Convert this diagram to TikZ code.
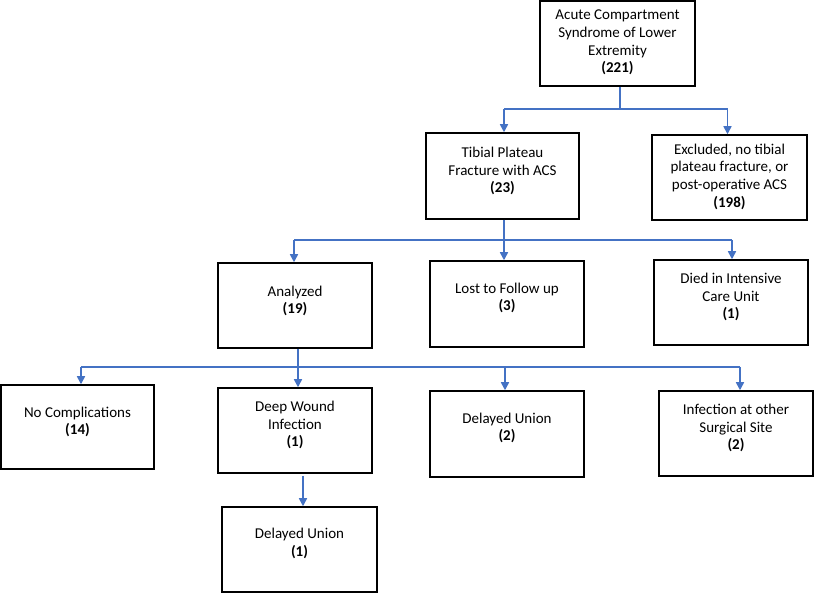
\documentclass[tikz,border=0pt]{standalone}
\usepackage{fontspec}
\setmainfont{Carlito}
\usetikzlibrary{arrows.meta}
\definecolor{connblue}{HTML}{4472C4}
\begin{document}
\begin{tikzpicture}[x=1pt,y=-1pt,
  box/.style={draw=black, line width=1.5pt, minimum width=154pt, minimum height=85pt, inner sep=0pt},
  txt/.style={align=center, font=\fontsize{15}{17.7}\selectfont, inner sep=0pt},
  link/.style={draw=connblue, line width=1.3pt},
  arr/.style={draw=connblue, line width=1.6pt, -{Triangle[width=8pt,length=8pt]}}]
\useasboundingbox (0,0) rectangle (815,593);
% boxes
\node[box, minimum width=155pt] (top) at (617.5,43.5) {};
\node[box, minimum width=153pt, minimum height=86pt] (tib) at (502.5,176) {};
\node[box, minimum width=155pt] (exc) at (729.5,177.5) {};
\node[box] (ana) at (295,305.5) {};
\node[box, minimum height=86pt] (lost) at (507,304) {};
\node[box] (died) at (731,302.5) {};
\node[box, minimum width=153pt, minimum height=84pt] (noc) at (77.5,427) {};
\node[box] (deep) at (295,430.5) {};
\node[box, minimum height=86pt] (del2) at (507,434) {};
\node[box] (inf) at (736,433.5) {};
\node[box, minimum width=155pt] (del1) at (299.5,549.5) {};
% texts
\node[txt] (ttop) at ([yshift=1pt]top.center) {Acute Compartment\\Syndrome of Lower\\Extremity\\\textbf{(221)}};
\node[txt] (ttib) at ([yshift=5pt]tib.center) {Tibial Plateau\\Fracture with ACS\\\textbf{(23)}};
\node[txt] (texc) at ([yshift=1pt]exc.center) {Excluded, no tibial\\plateau fracture, or\\post-operative ACS\\\textbf{(198)}};
\node[txt] (tana) at ([yshift=4.5pt]ana.center) {Analyzed\\\textbf{(19)}};
\node[txt] (tlost) at ([yshift=6pt]lost.center) {Lost to Follow up\\\textbf{(3)}};
\node[txt] (tdied) at ([yshift=5.5pt]died.center) {Died in Intensive\\Care Unit\\\textbf{(1)}};
\node[txt] (tnoc) at ([yshift=5pt]noc.center) {No Complications\\\textbf{(14)}};
\node[txt] (tdeep) at ([yshift=5.5pt]deep.center) {Deep Wound\\Infection\\\textbf{(1)}};
\node[txt] (tdel2) at ([yshift=6pt]del2.center) {Delayed Union\\\textbf{(2)}};
\node[txt] (tinf) at ([yshift=5.5pt]inf.center) {Infection at other\\Surgical Site\\\textbf{(2)}};
\node[txt] (tdel1) at ([yshift=6pt]del1.center) {Delayed Union\\\textbf{(1)}};
% junctions
\coordinate (j1) at (620,109);
\coordinate (j1l) at (504,109);
\coordinate (j1r) at (727.5,109);
\coordinate (j2) at (504,240);
\coordinate (j2l) at (294,240);
\coordinate (j2r) at (732,240);
\coordinate (j3) at (298,367);
\coordinate (j3a) at (81,367);
\coordinate (j3c) at (505,367);
\coordinate (j3d) at (740,367);
% connectors
\draw[link] (top.south -| j1) -- (j1);
\draw[link] (j1l) -- (j1r);
\draw[arr] (j1l) -- (tib.north -| j1l);
\draw[arr] (j1r) -- (exc.north -| j1r);
\draw[arr] (tib.south -| j2) -- (lost.north -| j2);
\draw[link] (j2l) -- (j2r);
\draw[arr] (j2l) -- (ana.north -| j2l);
\draw[arr] (j2r) -- (died.north -| j2r);
\draw[link] (j3a) -- (j3d);
\draw[arr] (ana.south -| j3) -- (deep.north -| j3);
\draw[arr] (j3a) -- (noc.north -| j3a);
\draw[arr] (j3c) -- (del2.north -| j3c);
\draw[arr] (j3d) -- (inf.north -| j3d);
\coordinate (j4) at (303,476);
\draw[arr] (j4) -- (del1.north -| j4);
\end{tikzpicture}
\end{document}
